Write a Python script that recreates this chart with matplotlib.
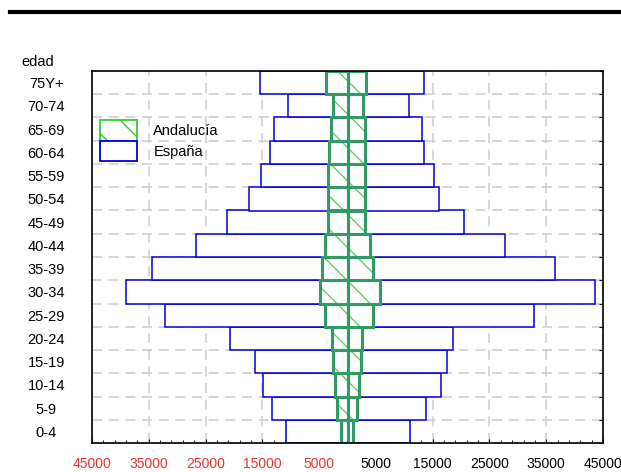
import numpy as np
import matplotlib
matplotlib.use("Agg")
import matplotlib.pyplot as plt
from matplotlib.patches import Patch
from matplotlib.lines import Line2D
from matplotlib.ticker import FixedLocator, FuncFormatter, AutoMinorLocator

plt.rcParams['font.family'] = ['Liberation Sans', 'DejaVu Sans']

edades = ['0-4', '5-9', '10-14', '15-19', '20-24', '25-29', '30-34', '35-39',
          '40-44', '45-49', '50-54', '55-59', '60-64', '65-69', '70-74', '75Y+']

espana_izq = [10880, 13240, 14880, 16290, 20690, 32200, 38950, 34490,
              26740, 21280, 17290, 15290, 13590, 12890, 10530, 15410]
espana_der = [11060, 13820, 16520, 17520, 18580, 32840, 43640, 36540,
              27680, 20570, 16110, 15180, 13470, 13170, 10780, 13530]
andalucia_izq = [1200, 1900, 2260, 2550, 2800, 4000, 4900, 4500,
                 4020, 3430, 3490, 3490, 3200, 2850, 2500, 3700]
andalucia_der = [950, 1620, 1970, 2320, 2500, 4550, 5700, 4500,
                 4020, 3080, 3140, 3140, 3030, 3030, 2730, 3330]

xticks = [-45000, -35000, -25000, -15000, -5000, 5000, 15000, 25000, 35000, 45000]

azul = '#0000DD'
verde = '#339966'
verde_claro = '#66CC66'
fs = 10.5

fig = plt.figure(figsize=(6.21, 4.72), dpi=100)
ax = fig.add_axes([92/621, 29/472, 511/621, 372/472])

y = np.arange(len(edades))

# España
ax.barh(y, -np.array(espana_izq), height=1, color='white', edgecolor=azul, lw=1.1, zorder=2)
ax.barh(y, espana_der, height=1, color='white', edgecolor=azul, lw=1.1, zorder=2)

# Andalucía: relleno rayado + borde grueso
for vals in (-np.array(andalucia_izq), np.array(andalucia_der)):
    ax.barh(y, vals, height=1, color='white', edgecolor=verde_claro, lw=0,
            hatch='\\', zorder=3)
    ax.barh(y, vals, height=1, fill=False, edgecolor=verde, lw=2.2, zorder=4)

ax.set_xlim(-45000, 45000)
ax.set_ylim(-0.5, len(edades) - 0.5)

ax.xaxis.set_major_locator(FixedLocator(xticks))
ax.xaxis.set_minor_locator(AutoMinorLocator(5))
ax.xaxis.set_major_formatter(FuncFormatter(lambda v, p: f"{abs(v):.0f}"))
ax.tick_params(axis='x', which='major', direction='in', length=3, labelsize=10, pad=10)
ax.tick_params(axis='x', which='minor', direction='in', length=2)
for lab, v in zip(ax.get_xticklabels(), xticks):
    lab.set_color('#E8322E' if v < 0 else 'black')

ax.yaxis.set_major_locator(FixedLocator(np.arange(len(edades) + 1) - 0.5))
ax.yaxis.set_minor_locator(FixedLocator(y))
ax.yaxis.set_major_formatter(FuncFormatter(lambda v, p: ''))
ax.set_yticklabels(edades, minor=True)
ax.tick_params(axis='y', which='both', left=False, right=True, direction='in', length=3)
ax.tick_params(axis='y', which='minor', length=0, labelsize=fs, pad=33)
for lab in ax.get_yticklabels(minor=True):
    lab.set_horizontalalignment('center')

ax.grid(True, which='major', color='#D0D0D0', lw=1.2, linestyle=(0, (6, 4)), zorder=0)
ax.set_axisbelow(True)
for s in ax.spines.values():
    s.set_linewidth(1.2)
    s.set_zorder(5)

ax.text(-0.139, 1.024, 'edad', transform=ax.transAxes, fontsize=fs, va='center', ha='left')

handles = [Patch(facecolor='white', edgecolor='#33CC33', hatch='\\', lw=1.3),
           Patch(facecolor='white', edgecolor=azul, lw=1.3)]
ax.legend(handles, ['Andalucía', 'España'], loc='upper left', bbox_to_anchor=(0.0157, 0.868),
          borderaxespad=0, borderpad=0, frameon=False, fontsize=fs,
          handlelength=2.55, handleheight=1.8, labelspacing=0.0, handletextpad=1.1)

fig.add_artist(Line2D([10/621, 1], [1 - 12/472, 1 - 12/472], color='black', lw=3))

fig.savefig('out.png', dpi=100)
